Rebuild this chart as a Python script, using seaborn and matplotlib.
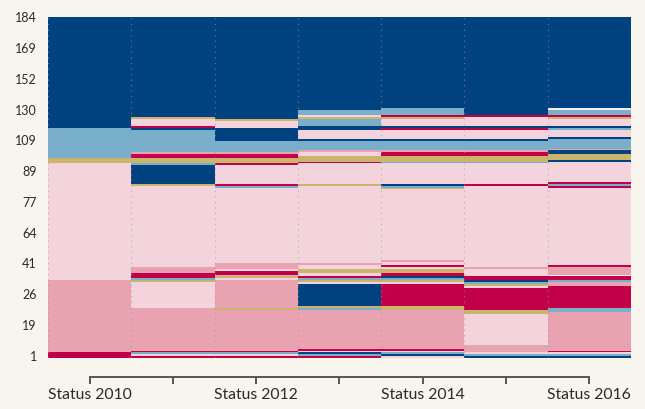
import numpy as np
import pandas as pd
import seaborn as sns
import matplotlib.pyplot as plt
from matplotlib.colors import ListedColormap

# Estado de cada fila por año, tramos de abajo hacia arriba: (estado, filas)
# N=azul oscuro, B=azul claro, G=dorado, L=rosa claro, M=rosa medio, C=carmín, W=blanco
status_2010 = [('C', 3), ('M', 39), ('L', 63), ('G', 3), ('B', 16), ('N', 60)]
status_2011 = [('C', 1), ('L', 1), ('B', 1), ('C', 1), ('M', 23), ('L', 14), ('G', 1), ('B', 1),
               ('C', 3), ('M', 3), ('L', 44), ('G', 1), ('N', 10), ('B', 1), ('G', 3), ('C', 2),
               ('M', 1), ('B', 12), ('N', 1), ('C', 1), ('L', 4), ('G', 1), ('N', 54)]
status_2012 = [('C', 1), ('L', 1), ('B', 1), ('C', 1), ('M', 22), ('G', 1), ('M', 15), ('L', 1),
               ('G', 1), ('M', 1), ('C', 2), ('L', 1), ('M', 3), ('L', 41), ('B', 1), ('C', 1),
               ('L', 10), ('C', 1), ('G', 3), ('C', 2), ('M', 1), ('B', 6), ('N', 7), ('L', 4),
               ('G', 1), ('N', 55)]
status_2013 = [('C', 1), ('B', 1), ('N', 1), ('L', 1), ('C', 1), ('M', 21), ('B', 1), ('G', 1),
               ('N', 12), ('L', 1), ('G', 1), ('B', 1), ('C', 1), ('L', 2), ('G', 2), ('L', 2),
               ('M', 1), ('L', 42), ('G', 1), ('L', 11), ('C', 1), ('G', 3), ('L', 2), ('M', 1),
               ('B', 5), ('N', 1), ('L', 5), ('N', 2), ('B', 4), ('G', 1), ('L', 1), ('B', 3),
               ('N', 50)]
status_2014 = [('L', 1), ('N', 1), ('B', 1), ('L', 1), ('C', 1), ('M', 21), ('G', 2), ('C', 12),
               ('L', 1), ('G', 1), ('B', 1), ('N', 1), ('C', 2), ('G', 2), ('L', 1), ('C', 1),
               ('L', 2), ('M', 1), ('L', 38), ('G', 1), ('B', 1), ('N', 1), ('L', 11), ('B', 1),
               ('G', 3), ('C', 2), ('M', 1), ('B', 5), ('N', 1), ('L', 5), ('C', 1), ('N', 1),
               ('L', 4), ('G', 1), ('C', 1), ('B', 4), ('N', 49)]
status_2015 = [('N', 1), ('B', 1), ('L', 1), ('M', 4), ('L', 17), ('G', 2), ('C', 12), ('L', 1),
               ('G', 1), ('B', 1), ('N', 1), ('C', 2), ('L', 4), ('M', 1), ('L', 44), ('C', 1),
               ('L', 11), ('B', 1), ('G', 3), ('C', 2), ('M', 1), ('B', 5), ('N', 1), ('L', 5),
               ('C', 1), ('N', 1), ('L', 5), ('C', 1), ('N', 53)]
status_2016 = [('N', 1), ('B', 1), ('L', 1), ('C', 1), ('M', 21), ('B', 2), ('C', 12), ('M', 2),
               ('B', 1), ('C', 2), ('W', 1), ('M', 4), ('C', 1), ('L', 42), ('C', 1), ('B', 1),
               ('C', 1), ('L', 11), ('N', 1), ('G', 3), ('N', 2), ('M', 1), ('B', 5), ('N', 1),
               ('L', 4), ('B', 1), ('N', 1), ('L', 4), ('G', 1), ('C', 1), ('B', 3), ('W', 1),
               ('N', 49)]

years = [2010, 2011, 2012, 2013, 2014, 2015, 2016]
x_labels = ['Status 2010', '', 'Status 2012', '', 'Status 2014', '', 'Status 2016']
y_labels = [1, 19, 26, 41, 64, 77, 89, 109, 130, 152, 169, 184]

codes = ['N', 'B', 'G', 'L', 'M', 'C', 'W']
colors = ['#00427f', '#79afca', '#cdb46d', '#f3d4dc', '#e9a2b0', '#c20047', '#f6eef0']
bg = '#f8f5ee'


def expandir(tramos):
    fila = []
    for estado, n in tramos:
        fila += [codes.index(estado)] * n
    return fila


columnas = [status_2010, status_2011, status_2012, status_2013,
            status_2014, status_2015, status_2016]
df = pd.DataFrame({y: expandir(c) for y, c in zip(years, columnas)})

plt.rcParams['font.family'] = ['Lato', 'DejaVu Sans']
fig = plt.figure(figsize=(6.45, 4.09), dpi=100, facecolor=bg)
ax = fig.add_axes([0.0744, 0.1247, 0.9039, 0.8337])
ax.set_facecolor(bg)

sns.heatmap(df, cmap=ListedColormap(colors), vmin=-0.5, vmax=len(codes) - 0.5,
            cbar=False, ax=ax)
ax.invert_yaxis()

# lineas punteadas entre columnas
for i in range(0, 7):
    ax.axvline(i, color='#9c93a3', lw=0.8, ls=(0, (1, 4)), alpha=0.7)

# el eje x va separado del grafico (set_position reinicia los ticks, va primero)
ax.spines['bottom'].set_visible(True)
ax.spines['bottom'].set_position(('outward', 13.7))
ax.spines['bottom'].set_bounds(0.5, 6.5)
ax.spines['bottom'].set_color('#555555')
ax.spines['bottom'].set_linewidth(1.4)

ax.set_xticks(np.arange(7) + 0.5)
ax.set_xticklabels(x_labels, rotation=0)
ax.set_yticks(np.linspace(0.8, 183.2, 12))
ax.set_yticklabels(y_labels, rotation=0)
ax.set_xlabel('')
ax.set_ylabel('')

ax.tick_params(axis='x', length=5, width=1.4, color='#555555', pad=3, direction='out',
               labelsize=11.3, labelcolor='#2a2a2a')
ax.tick_params(axis='y', length=0, pad=8, labelsize=9, labelcolor='#2a2a2a')

plt.savefig('out.png', dpi=100, facecolor=bg)
